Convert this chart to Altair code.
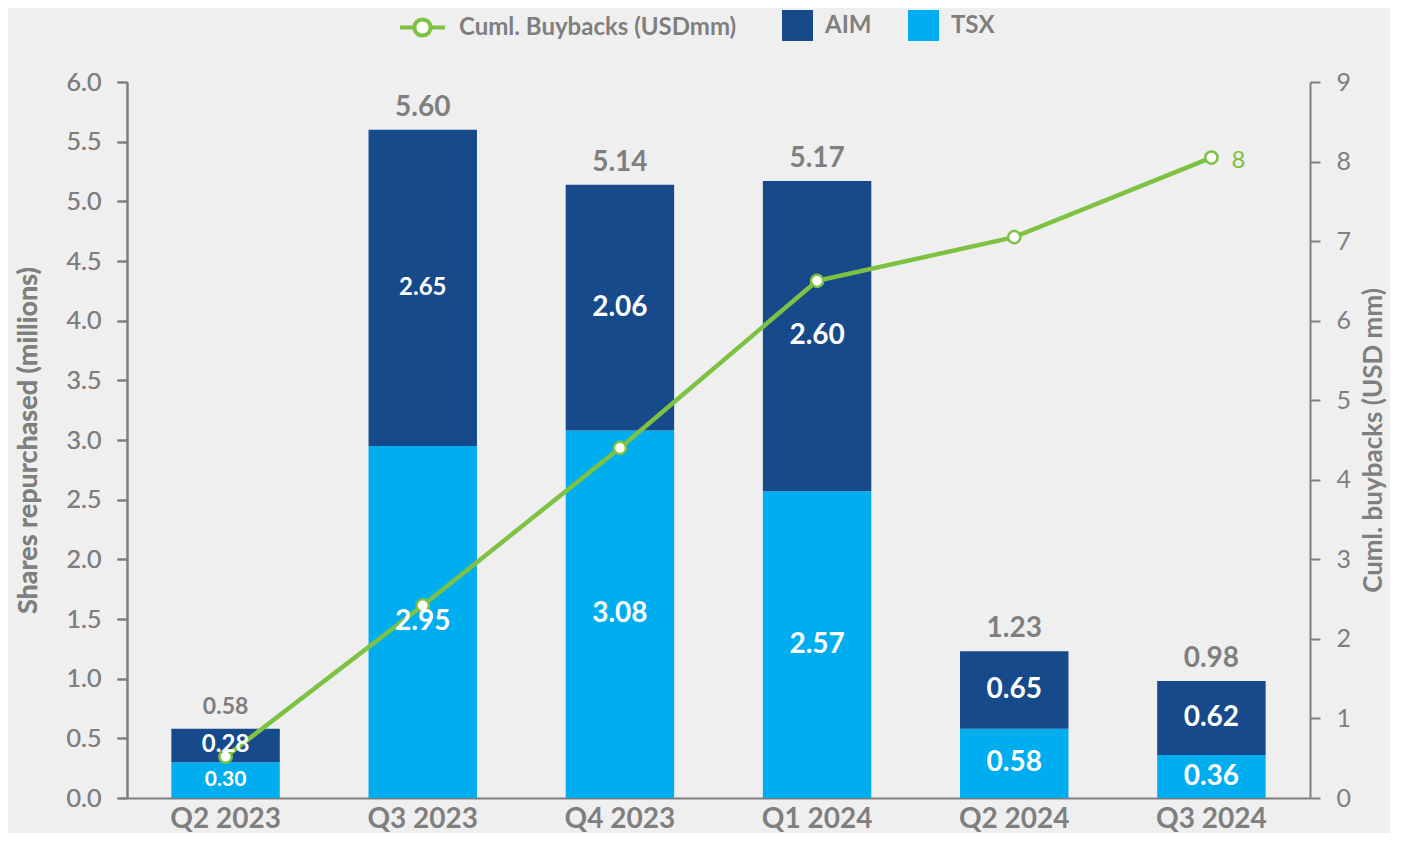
import altair as alt
import pandas as pd

quarters = ["Q2 2023", "Q3 2023", "Q4 2023", "Q1 2024", "Q2 2024", "Q3 2024"]
tsx = [0.30, 2.95, 3.08, 2.57, 0.58, 0.36]
aim = [0.28, 2.65, 2.06, 2.60, 0.65, 0.62]
totals = [0.58, 5.60, 5.14, 5.17, 1.23, 0.98]
cum_buybacks = [0.52, 2.42, 4.40, 6.50, 7.05, 8.05]
cum_labels = ["", "", "", "", "", "8"]
left_ticks = [0.0, 0.5, 1.0, 1.5, 2.0, 2.5, 3.0, 3.5, 4.0, 4.5, 5.0, 5.5, 6.0]
right_ticks = [0, 1, 2, 3, 4, 5, 6, 7, 8, 9]

GRAY = "#7f7f7f"
DARK = "#164a8a"
LIGHT = "#00aeef"
GREEN = "#7dc242"
FONT = "Lato"

rows = []
for q, t, a in zip(quarters, tsx, aim):
    rows.append({"quarter": q, "series": "TSX", "value": t, "start": 0.0, "end": t})
    rows.append({"quarter": q, "series": "AIM", "value": a, "start": t, "end": t + a})
bars_df = pd.DataFrame(rows)
bars_df["mid"] = (bars_df["start"] + bars_df["end"]) / 2
bars_df["label"] = bars_df["value"].map(lambda v: f"{v:.2f}")

tot_df = pd.DataFrame({"quarter": quarters, "total": totals})
tot_df["label"] = tot_df["total"].map(lambda v: f"{v:.2f}")

line_df = pd.DataFrame({"quarter": quarters, "cum": cum_buybacks, "lab": cum_labels,
                        "series": ["Cuml. Buybacks (USDmm)"] * len(quarters)})

xenc = alt.X("quarter:N", sort=quarters,
             scale=alt.Scale(paddingInner=0.45, paddingOuter=0.225),
             axis=alt.Axis(title=None, labelAngle=0, labelFontSize=28, labelFontWeight="bold",
                           labelColor=GRAY, labelFont=FONT, ticks=False, domainColor=GRAY,
                           domainWidth=2, labelPadding=7))

left_axis = alt.Axis(title="Shares repurchased (millions)", values=left_ticks, format=".1f",
                     grid=False, labelFontSize=25, labelColor=GRAY, labelFont=FONT,
                     tickColor=GRAY, tickWidth=2, tickSize=10, domainColor=GRAY, domainWidth=2,
                     labelPadding=16, titleFontSize=27, titleFontWeight="bold", titleColor=GRAY,
                     titleFont=FONT, titlePadding=24)
lscale = alt.Scale(domain=[0, 6], nice=False)

bars = alt.Chart(bars_df).mark_bar().encode(
    x=xenc,
    y=alt.Y("start:Q", scale=lscale, axis=left_axis),
    y2="end:Q",
    color=alt.Color("series:N", scale=alt.Scale(domain=["AIM", "TSX"], range=[DARK, LIGHT]),
                    legend=alt.Legend(title=None, orient="none", legendX=655, legendY=-72,
                                      direction="horizontal", symbolType="square",
                                      symbolSize=961, symbolStrokeWidth=0, labelFontSize=24,
                                      labelFontWeight="bold", labelColor=GRAY, labelFont=FONT,
                                      labelOffset=12, columnPadding=36, padding=0)),
)

inner = alt.Chart(bars_df).transform_calculate(
    fs="datum.quarter == 'Q2 2023' ? (datum.series == 'TSX' ? 21 : 24) : "
       "((datum.quarter == 'Q3 2023' && datum.series == 'AIM') ? 24 : 28)"
).mark_text(color="white", fontWeight="bold", font=FONT, baseline="middle").encode(
    x=alt.X("quarter:N", sort=quarters),
    y=alt.Y("mid:Q", scale=lscale, axis=left_axis),
    text="label:N",
    size=alt.Size("fs:Q", scale=None),
)

tot = alt.Chart(tot_df).transform_calculate(
    fs="datum.quarter == 'Q2 2023' ? 23 : 28"
).mark_text(color=GRAY, fontWeight="bold", font=FONT, baseline="middle", dy=-22).encode(
    x=alt.X("quarter:N", sort=quarters),
    y=alt.Y("total:Q", scale=lscale, axis=left_axis),
    text="label:N",
    size=alt.Size("fs:Q", scale=None),
)

right_axis = alt.Axis(title="Cuml. buybacks (USD mm)", orient="right", values=right_ticks,
                      grid=False, labelFontSize=25, labelColor=GRAY, labelFont=FONT,
                      tickColor=GRAY, tickWidth=2, tickSize=10, domainColor=GRAY, domainWidth=2,
                      labelPadding=16, titleFontSize=26, titleFontWeight="bold", titleColor=GRAY,
                      titleFont=FONT, titleAngle=-90, titlePadding=36)
rscale = alt.Scale(domain=[0, 9], nice=False)

line = alt.Chart(line_df).mark_line(strokeWidth=4.5).encode(
    x=alt.X("quarter:N", sort=quarters),
    y=alt.Y("cum:Q", scale=rscale, axis=right_axis),
    color=alt.Color("series:N", scale=alt.Scale(range=[GREEN]),
                    legend=alt.Legend(title=None, orient="none", legendX=271, legendY=-79,
                                      symbolType="M-1,0L-0.36,0M0.36,0L1,0M-0.36,0A0.36,0.36 0 1,1 0.36,0A0.36,0.36 0 1,1 -0.36,0Z",
                                      symbolSize=2025, symbolStrokeWidth=4,
                                      symbolFillColor="white", labelFontSize=24,
                                      labelFontWeight="bold", labelColor=GRAY, labelFont=FONT,
                                      labelOffset=12, labelLimit=500, padding=0)),
)

pts = alt.Chart(line_df).mark_point(filled=True, fill="white", stroke=GREEN, strokeWidth=2.5,
                                    size=150, opacity=1).encode(
    x=alt.X("quarter:N", sort=quarters),
    y=alt.Y("cum:Q", scale=rscale, axis=right_axis),
)

endlab = alt.Chart(line_df).mark_text(color=GREEN, fontSize=24, font=FONT, align="left",
                                      baseline="middle", dx=20, dy=3).encode(
    x=alt.X("quarter:N", sort=quarters),
    y=alt.Y("cum:Q", scale=rscale, axis=right_axis),
    text="lab:N",
)

left = alt.layer(bars, tot)
right = alt.layer(line, pts, endlab)

chart = alt.layer(left, right, inner).resolve_scale(y="independent", color="independent").properties(
    width=1183, height=716,
    background="#efefef",
    padding={"left": 119, "top": 74, "right": 80, "bottom": 35},
    autosize=alt.AutoSizeParams(type="none"),
).configure_view(stroke=None)

chart.save("out.html", embed_options={"renderer": "svg", "actions": False})
